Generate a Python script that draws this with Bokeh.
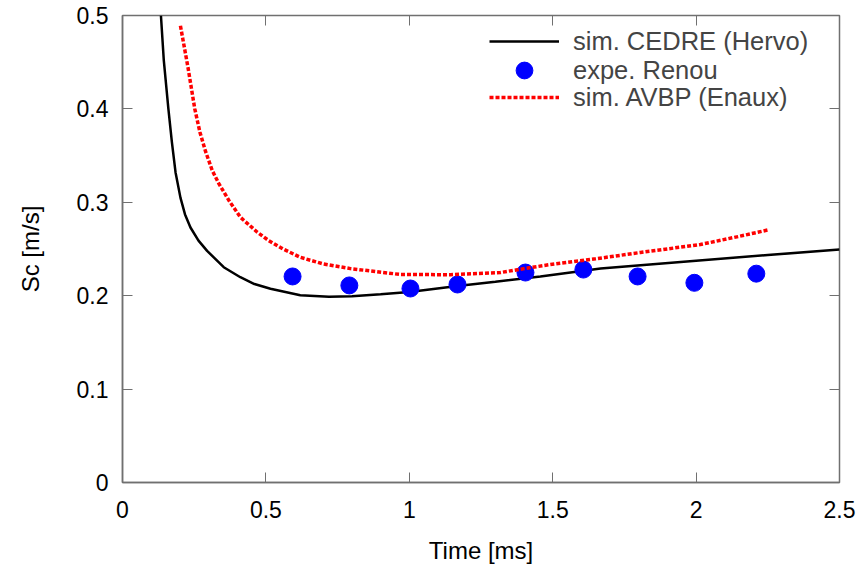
from bokeh.plotting import figure
from bokeh.models import LinearAxis, FixedTicker, Legend, LegendItem, Range1d, CustomLabelingPolicy
from bokeh.embed import file_html
from bokeh.resources import INLINE

# --- data ---
cedre_t = [0.134, 0.144, 0.16, 0.172, 0.185, 0.202, 0.218, 0.237, 0.265, 0.295, 0.353, 0.411,
           0.46, 0.516, 0.62, 0.72, 0.80, 0.90, 1.00, 1.168, 1.3, 1.457, 1.667, 2.0, 2.25, 2.5]
cedre_sc = [0.5, 0.452, 0.40, 0.365, 0.332, 0.305, 0.287, 0.273, 0.259, 0.248, 0.2305, 0.2198,
            0.2125, 0.2074, 0.2005, 0.199, 0.1995, 0.2015, 0.204, 0.2105, 0.215, 0.2205, 0.229,
            0.2375, 0.2435, 0.2495]

renou_t = [0.593, 0.791, 1.004, 1.168, 1.405, 1.607, 1.796, 1.994, 2.21]
renou_sc = [0.2206, 0.211, 0.2077, 0.212, 0.2248, 0.228, 0.2206, 0.2138, 0.2236]

avbp_t = [0.202, 0.228, 0.252, 0.27, 0.289, 0.313, 0.336, 0.371, 0.411, 0.47, 0.51, 0.56,
          0.621, 0.7, 0.795, 0.969, 1.144, 1.318, 1.4, 1.492, 1.65, 1.806, 2.015, 2.15, 2.252]
avbp_sc = [0.489, 0.445, 0.400, 0.375, 0.355, 0.334, 0.320, 0.302, 0.284, 0.268, 0.259, 0.25,
           0.241, 0.234, 0.229, 0.2227, 0.2225, 0.2248, 0.229, 0.2334, 0.2395, 0.2463, 0.2548,
           0.2635, 0.2705]

x_ticks = [0, 0.5, 1, 1.5, 2, 2.5]
x_tick_labels = ["0", "0.5", "1", "1.5", "2", "2.5"]
y_ticks = [0, 0.1, 0.2, 0.3, 0.4, 0.5]
y_tick_labels = ["0", "0.1", "0.2", "0.3", "0.4", "0.5"]

labels = ["sim. CEDRE (Hervo)", "expe. Renou", "sim. AVBP (Enaux)"]

FONT = "Liberation Sans"
TICK_FS = "23px"
LABEL_FS = "24px"
LEG_FS = "25.5px"
AX_COLOR = "#707070"

p = figure(frame_width=717, frame_height=467, output_backend="svg", toolbar_location=None,
           x_range=Range1d(0, 2.5), y_range=Range1d(0, 0.5),
           min_border_left=122, min_border_right=16, min_border_top=15, min_border_bottom=79,
           x_axis_label="Time [ms]", y_axis_label="Sc [m/s]")
p.background_fill_color = "white"
p.border_fill_color = "white"
p.outline_line_color = AX_COLOR
p.outline_line_width = 1.5
p.grid.visible = False

for ax in p.xaxis + p.yaxis:
    ax.axis_line_color = AX_COLOR
    ax.axis_line_width = 1.5
    ax.major_tick_line_color = AX_COLOR
    ax.major_tick_in = 10
    ax.major_tick_out = 0
    ax.minor_tick_line_color = None
    ax.major_label_text_font = FONT
    ax.major_label_text_font_size = TICK_FS
    ax.major_label_text_color = "black"
    ax.axis_label_text_font = FONT
    ax.axis_label_text_font_size = LABEL_FS
    ax.axis_label_text_font_style = "normal"
    ax.axis_label_text_color = "black"

p.xaxis.ticker = FixedTicker(ticks=x_ticks)
p.xaxis.major_label_overrides = dict(zip(x_ticks, x_tick_labels))
p.yaxis.ticker = FixedTicker(ticks=y_ticks)
p.yaxis.major_label_overrides = dict(zip(y_ticks, y_tick_labels))
p.xaxis.major_label_standoff = 18
p.xaxis.axis_label_standoff = 16
p.yaxis.major_label_standoff = 14
p.yaxis.axis_label_standoff = 30

no_labels = CustomLabelingPolicy(code="return new Set()")
top_ax = LinearAxis(ticker=FixedTicker(ticks=x_ticks), major_label_policy=no_labels,
                    axis_line_color=None, major_tick_line_color=AX_COLOR,
                    major_tick_in=10, major_tick_out=0, minor_tick_line_color=None,
                    major_label_standoff=0)
right_ax = LinearAxis(ticker=FixedTicker(ticks=y_ticks), major_label_policy=no_labels,
                      axis_line_color=None, major_tick_line_color=AX_COLOR,
                      major_tick_in=10, major_tick_out=0, minor_tick_line_color=None,
                      major_label_standoff=0)
p.add_layout(top_ax, "above")
p.add_layout(right_ax, "right")

r1 = p.line(cedre_t, cedre_sc, line_color="black", line_width=2.5)
r2 = p.scatter(renou_t, renou_sc, size=17, fill_color="blue", line_color="blue")
r3 = p.line(avbp_t, avbp_sc, line_color="red", line_width=3.5, line_dash="4 2")

# one legend per entry so the marker can be drawn at full size
for lab, rend, vy in zip(labels, [r1, r2, r3], [420, 391, 364]):
    leg = Legend(items=[LegendItem(label=lab, renderers=[rend])],
                 location=(367, vy), border_line_alpha=0, background_fill_alpha=0,
                 glyph_width=70, glyph_height=42, label_height=26, spacing=0, padding=0,
                 label_standoff=14, label_text_font=FONT, label_text_font_size=LEG_FS,
                 margin=0)
    p.add_layout(leg)

open("out.html", "w").write(file_html(p, INLINE))
